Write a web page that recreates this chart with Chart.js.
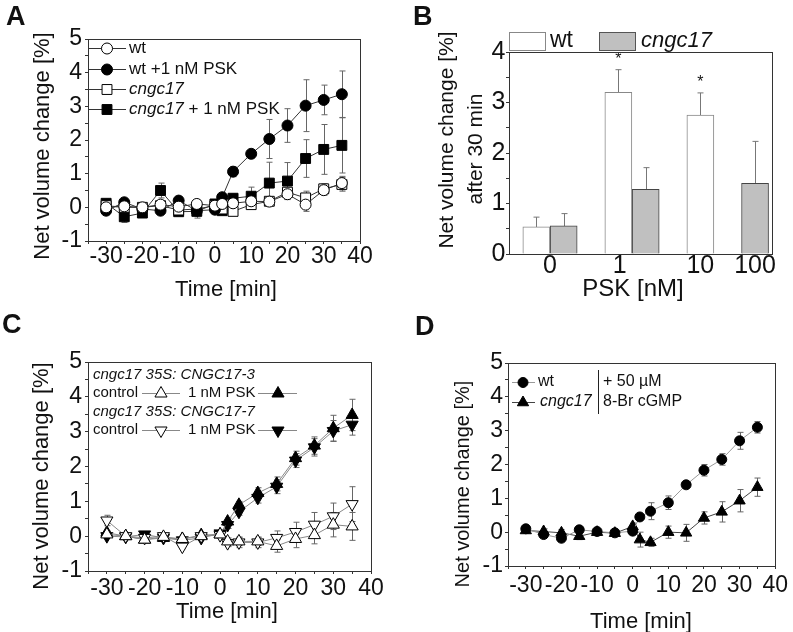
<!DOCTYPE html>
<html>
<head>
<meta charset="utf-8">
<script src="https://cdn.jsdelivr.net/npm/chart.js@4.4.1/dist/chart.umd.min.js"></script>
<style>
  html, body { margin: 0; padding: 0; background: #fff; }
  #wrap { position: relative; width: 793px; height: 632px; overflow: hidden; }
  #wrap canvas { position: absolute; left: 0; top: 0; }
</style>
</head>
<body>
<div id="wrap">
  <canvas id="chartA" width="793" height="632"></canvas>
  <canvas id="chartB" width="793" height="632"></canvas>
  <canvas id="chartC" width="793" height="632"></canvas>
  <canvas id="chartD" width="793" height="632"></canvas>
</div>
<script>
// ---- datos ----
const timePoints = [-30, -25, -20, -15, -10, -5, 0, 2, 5, 10, 15, 20, 25, 30, 35];
const timeTicks = [-30, -20, -10, 0, 10, 20, 30, 40];
const volTicks = [-1, 0, 1, 2, 3, 4, 5];

// A
const aWt         = [0.0, 0.03, 0.0, 0.08, 0.02, 0.1, 0.05, 0.1, 0.12, 0.18, 0.17, 0.39, 0.08, 0.51, 0.72];
const aWtErr      = [0.06, 0.08, 0.06, 0.1, 0.08, 0.12, 0.06, 0.1, 0.1, 0.1, 0.1, 0.15, 0.2, 0.15, 0.2];
const aWtPsk      = [-0.1, 0.15, -0.05, -0.1, 0.2, -0.1, -0.07, 0.3, 1.06, 1.59, 2.03, 2.43, 3.02, 3.19, 3.36];
const aWtPskErr   = [0.05, 0.06, 0.05, 0.08, 0.12, 0.1, 0.05, 0.05, 0.15, 0.05, 0.58, 0.5, 0.77, 0.44, 0.69];
const aCngc       = [0.05, 0.0, 0.0, 0.05, -0.08, -0.05, 0.05, -0.05, -0.12, 0.08, 0.18, 0.45, 0.28, 0.55, 0.68];
const aCngcErr    = [0.05, 0.05, 0.05, 0.05, 0.06, 0.08, 0.05, 0.05, 0.1, 0.08, 0.1, 0.12, 0.2, 0.15, 0.2];
const aCngcPsk    = [0.12, -0.28, -0.17, 0.5, -0.13, -0.12, 0.1, -0.1, 0.27, 0.33, 0.72, 0.78, 1.45, 1.72, 1.84];
const aCngcPskErr = [0.06, 0.17, 0.06, 0.22, 0.05, 0.2, 0.05, 0.05, 0.12, 0.27, 0.62, 0.55, 0.56, 0.74, 0.82];

// B
const doses    = ['0', '1', '10', '100'];
const bWt      = [0.54, 3.2, 2.75, null];
const bWtErr   = [0.19, 0.45, 0.44, null];
const bWtSig   = ['', '*', '*', ''];
const bCngc    = [0.56, 1.28, null, 1.4];
const bCngcErr = [0.24, 0.43, null, 0.83];

// C
const c3Ctrl    = [0.05, 0.0, -0.1, -0.02, -0.08, 0.0, 0.05, -0.15, -0.15, -0.15, -0.28, -0.08, 0.03, 0.33, 0.28];
const c3CtrlErr = [0.06, 0.05, 0.06, 0.05, 0.06, 0.05, 0.05, 0.1, 0.12, 0.12, 0.18, 0.25, 0.25, 0.35, 0.4];
const c3Psk     = [0.1, 0.0, -0.1, -0.05, -0.08, 0.03, 0.05, 0.42, 0.9, 1.24, 1.5, 2.24, 2.6, 3.1, 3.48];
const c3PskErr  = [0.05, 0.05, 0.05, 0.05, 0.05, 0.05, 0.05, 0.1, 0.1, 0.15, 0.2, 0.2, 0.25, 0.37, 0.45];
const c7Ctrl    = [0.45, 0.0, -0.05, 0.0, -0.3, 0.0, 0.03, -0.2, -0.18, -0.18, -0.05, 0.12, 0.33, 0.57, 0.92];
const c7CtrlErr = [0.15, 0.05, 0.05, 0.1, 0.06, 0.05, 0.05, 0.1, 0.15, 0.15, 0.2, 0.28, 0.35, 0.38, 0.5];
const c7Psk     = [0.0, -0.02, 0.05, -0.05, -0.12, -0.05, 0.08, 0.32, 0.7, 1.1, 1.42, 2.17, 2.55, 3.02, 3.2];
const c7PskErr  = [0.05, 0.05, 0.05, 0.05, 0.05, 0.05, 0.05, 0.1, 0.1, 0.15, 0.2, 0.2, 0.25, 0.3, 0.3];

// D
const dWt      = [0.1, -0.07, -0.18, 0.07, 0.02, -0.02, 0.03, 0.45, 0.62, 0.87, 1.4, 1.83, 2.15, 2.7, 3.1];
const dWtErr   = [0.05, 0.08, 0.08, 0.05, 0.05, 0.05, 0.05, 0.05, 0.25, 0.2, 0.07, 0.17, 0.17, 0.25, 0.17];
const dCngc    = [0.05, 0.02, -0.02, -0.12, 0.0, -0.03, 0.17, -0.22, -0.3, 0.0, -0.02, 0.42, 0.6, 0.93, 1.33];
const dCngcErr = [0.08, 0.08, 0.1, 0.1, 0.08, 0.05, 0.1, 0.22, 0.12, 0.18, 0.25, 0.18, 0.3, 0.33, 0.27];

// ---- estilo / layout ----
const FONT = '"Liberation Sans", Arial, Helvetica, sans-serif';
const W = 793, H = 632;
Chart.defaults.font.family = FONT;
Chart.defaults.color = '#111';

// posiciones de las barras (ranuras) en el panel B
const wtSlot = [1, 4, 7, 10];
const cngcSlot = [2, 5, 8, 9];
const doseTickSlot = [1.5, 4.05, 7, 9];

function padFor(a) {
  return { left: a.l - 40, top: a.t, right: W - a.r, bottom: H - a.b - 40 };
}

function drawMarker(ctx, m, x, y) {
  ctx.beginPath();
  if (m.style === 'circle') {
    ctx.arc(x, y, m.r, 0, Math.PI * 2);
  } else if (m.style === 'rect') {
    const s = m.r * Math.SQRT1_2;
    ctx.rect(x - s, y - s, 2 * s, 2 * s);
  } else {
    let rad = m.down ? Math.PI : 0;
    ctx.moveTo(x + Math.sin(rad) * m.r, y - Math.cos(rad) * m.r);
    rad += Math.PI * 2 / 3;
    ctx.lineTo(x + Math.sin(rad) * m.r, y - Math.cos(rad) * m.r);
    rad += Math.PI * 2 / 3;
    ctx.lineTo(x + Math.sin(rad) * m.r, y - Math.cos(rad) * m.r);
    ctx.closePath();
  }
  ctx.fillStyle = m.fill;
  ctx.fill();
  ctx.strokeStyle = m.stroke;
  ctx.lineWidth = 1;
  ctx.stroke();
}

// marco alrededor del area
const framePlugin = {
  id: 'frame',
  afterDraw(chart) {
    const a = chart.chartArea, ctx = chart.ctx;
    ctx.save();
    ctx.strokeStyle = '#333';
    ctx.lineWidth = 1;
    ctx.strokeRect(Math.round(a.left) + 0.5, Math.round(a.top) + 0.5,
      Math.round(a.right - a.left), Math.round(a.bottom - a.top));
    ctx.restore();
  }
};

// barras de error
const errorBarPlugin = {
  id: 'errorBars',
  beforeDatasetsDraw(chart) {
    const ctx = chart.ctx;
    chart.data.datasets.forEach((ds, i) => {
      if (!ds.errors) return;
      const meta = chart.getDatasetMeta(i);
      const ys = chart.scales[meta.yAxisID];
      ctx.save();
      ctx.strokeStyle = ds.errorColor || '#666';
      ctx.lineWidth = 1;
      meta.data.forEach((el, j) => {
        const pt = ds.data[j];
        const e = ds.errors[j];
        if (!pt || pt.y == null || e == null) return;
        const x = Math.round(el.x) + 0.5;
        const top = ys.getPixelForValue(pt.y + e);
        const bot = ys.getPixelForValue(pt.y - e);
        const cap = ds.capWidth || 3;
        ctx.beginPath();
        ctx.moveTo(x, top); ctx.lineTo(x, bot);
        ctx.moveTo(x - cap, top); ctx.lineTo(x + cap, top);
        ctx.moveTo(x - cap, bot); ctx.lineTo(x + cap, bot);
        ctx.stroke();
      });
      ctx.restore();
    });
  }
};

function textLayer(items) {
  return {
    id: 'textLayer',
    afterDraw(chart) {
      const ctx = chart.ctx;
      items.forEach(it => {
        ctx.save();
        ctx.translate(it.x, it.y);
        if (it.rot) ctx.rotate(it.rot * Math.PI / 180);
        ctx.fillStyle = '#111';
        ctx.textBaseline = it.base || 'middle';
        ctx.textAlign = 'left';
        const parts = Array.isArray(it.t) ? it.t : [[it.t, it.italic]];
        const fontOf = p => (p[1] ? 'italic ' : '') + (it.bold ? 'bold ' : '') + it.size + 'px ' + FONT;
        let total = 0;
        parts.forEach(p => { ctx.font = fontOf(p); total += ctx.measureText(p[0]).width; });
        let x = it.align === 'center' ? -total / 2 : 0;
        parts.forEach(p => {
          ctx.font = fontOf(p);
          ctx.fillText(p[0], x, 0);
          x += ctx.measureText(p[0]).width;
        });
        ctx.restore();
      });
    }
  };
}

function keyLayer(items) {
  return {
    id: 'keyLayer',
    afterDraw(chart) {
      const ctx = chart.ctx;
      items.forEach(k => {
        ctx.save();
        if (k.box) {
          ctx.fillStyle = k.box.fill;
          ctx.fillRect(k.box.x, k.box.y, k.box.w, k.box.h);
          ctx.strokeStyle = k.box.stroke;
          ctx.lineWidth = 1;
          ctx.strokeRect(k.box.x + 0.5, k.box.y + 0.5, k.box.w, k.box.h);
        } else {
          ctx.strokeStyle = k.color;
          ctx.lineWidth = 1;
          ctx.beginPath();
          ctx.moveTo(k.x1, k.y + 0.5);
          ctx.lineTo(k.x2, k.y + 0.5);
          ctx.stroke();
          if (k.marker) drawMarker(ctx, k.marker, k.mx, k.y + 0.5);
        }
        ctx.restore();
      });
    }
  };
}

function timeScales(tickSize, xPad, yPad) {
  const tickFont = { size: tickSize, lineHeight: 1 };
  return {
    x: {
      type: 'linear', min: -35, max: 40, offset: false,
      afterBuildTicks: s => { s.ticks = []; for (let v = -35; v <= 40; v += 5) s.ticks.push({ value: v }); },
      afterFit: s => { s.height = 40; },
      ticks: { autoSkip: false, maxRotation: 0, padding: xPad, font: tickFont, color: '#111',
        callback: v => timeTicks.includes(v) ? String(v) : '' },
      grid: { drawOnChartArea: false, tickLength: 3, tickColor: '#333' },
      border: { color: '#333' }
    },
    y: {
      min: -1, max: 5,
      afterBuildTicks: s => { s.ticks = []; for (let v = -1; v <= 5; v += 0.5) s.ticks.push({ value: v }); },
      afterFit: s => { s.width = 40; },
      ticks: { autoSkip: false, padding: yPad, font: tickFont, color: '#111',
        callback: v => volTicks.includes(v) ? String(v) : '' },
      grid: { drawOnChartArea: false, tickLength: 3, tickColor: '#333' },
      border: { color: '#333' }
    }
  };
}

function series(ys, errs, st) {
  return Object.assign({
    data: timePoints.map((t, i) => ({ x: t, y: ys[i] })),
    errors: errs,
    borderWidth: 1,
    pointBorderWidth: 1,
    pointBorderColor: '#000',
    tension: 0,
    fill: false
  }, st);
}

function timeChart(id, area, datasets, tickSize, xPad, yPad, extraPlugins) {
  return new Chart(document.getElementById(id), {
    type: 'line',
    data: { datasets },
    options: {
      responsive: false, animation: false, devicePixelRatio: 1,
      layout: { padding: padFor(area) },
      plugins: { legend: { display: false }, tooltip: { enabled: false } },
      scales: timeScales(tickSize, xPad, yPad)
    },
    plugins: [errorBarPlugin, framePlugin].concat(extraPlugins)
  });
}

const mk = (style, r, fill, extra) => Object.assign({ style, r, fill, stroke: '#000' }, extra || {});

// ---- Panel A ----
const areaA = { l: 88, t: 39, r: 360, b: 241 };
timeChart('chartA', areaA, [
  series(aWt, aWtErr, { borderColor: '#333', pointStyle: 'circle', pointRadius: 5.5, pointBackgroundColor: '#fff' }),
  series(aWtPsk, aWtPskErr, { borderColor: '#333', pointStyle: 'circle', pointRadius: 5.5, pointBackgroundColor: '#000' }),
  series(aCngc, aCngcErr, { borderColor: '#333', pointStyle: 'rect', pointRadius: 7, pointBackgroundColor: '#fff' }),
  series(aCngcPsk, aCngcPskErr, { borderColor: '#333', pointStyle: 'rect', pointRadius: 7, pointBackgroundColor: '#000' })
], 23, 1.5, 3, [
  keyLayer([
    { x1: 89, x2: 126, y: 48, mx: 107, color: '#333', marker: mk('circle', 5.5, '#fff') },
    { x1: 89, x2: 126, y: 69, mx: 107, color: '#333', marker: mk('circle', 5.5, '#000') },
    { x1: 89, x2: 126, y: 89, mx: 107, color: '#333', marker: mk('rect', 7, '#fff') },
    { x1: 89, x2: 126, y: 109, mx: 107, color: '#333', marker: mk('rect', 7, '#000') }
  ]),
  textLayer([
    { t: 'A', x: 6, y: 25, size: 27, bold: true, base: 'alphabetic' },
    { t: 'Net volume change [%]', x: 43, y: 146, size: 22, rot: -90, align: 'center' },
    { t: 'Time [min]', x: 226, y: 290, size: 22, align: 'center' },
    { t: 'wt', x: 129, y: 48, size: 17 },
    { t: 'wt +1 nM PSK', x: 129, y: 69, size: 17 },
    { t: [['cngc17', true]], x: 129, y: 89, size: 17 },
    { t: [['cngc17', true], [' + 1 nM PSK', false]], x: 129, y: 109, size: 17 }
  ])
]);

// ---- Panel B ----
const areaB = { l: 509, t: 52, r: 772, b: 254 };
const sigPlugin = {
  id: 'sig',
  afterDatasetsDraw(chart) {
    const ctx = chart.ctx, ys = chart.scales.y;
    const meta = chart.getDatasetMeta(0);
    ctx.save();
    ctx.fillStyle = '#111';
    ctx.font = '16px ' + FONT;
    ctx.textAlign = 'center';
    ctx.textBaseline = 'middle';
    bWtSig.forEach((s, i) => {
      if (!s || bWt[i] == null) return;
      const el = meta.data[i];
      ctx.fillText(s, el.x, ys.getPixelForValue(bWt[i] + bWtErr[i]) - 10);
    });
    ctx.restore();
  }
};
new Chart(document.getElementById('chartB'), {
  type: 'bar',
  data: {
    datasets: [
      {
        data: doses.map((d, i) => ({ x: wtSlot[i], y: bWt[i] })),
        errors: bWtErr, errorColor: '#777',
        backgroundColor: '#fff', borderColor: '#888', borderWidth: 1,
        barThickness: 27, grouped: false
      },
      {
        data: doses.map((d, i) => ({ x: cngcSlot[i], y: bCngc[i] })),
        errors: bCngcErr, errorColor: '#777',
        backgroundColor: '#c0c0c0', borderColor: '#444', borderWidth: 1,
        barThickness: 27, grouped: false
      }
    ]
  },
  options: {
    responsive: false, animation: false, devicePixelRatio: 1,
    layout: { padding: padFor(areaB) },
    plugins: { legend: { display: false }, tooltip: { enabled: false } },
    scales: {
      x: {
        type: 'linear', min: 0, max: 9.62, offset: false,
        afterBuildTicks: s => { s.ticks = doseTickSlot.map(v => ({ value: v })); },
        afterFit: s => { s.height = 40; },
        ticks: { autoSkip: false, maxRotation: 0, padding: 0, font: { size: 25, lineHeight: 1 }, color: '#111',
          callback: (v, i) => doses[i] },
        grid: { drawOnChartArea: false, drawTicks: false },
        border: { color: '#333' }
      },
      y: {
        min: 0, max: 4,
        afterBuildTicks: s => { s.ticks = []; for (let v = 0; v <= 4; v += 0.5) s.ticks.push({ value: v }); },
        afterFit: s => { s.width = 40; },
        ticks: { autoSkip: false, padding: 0.5, font: { size: 25, lineHeight: 1 }, color: '#111',
          callback: v => Number.isInteger(v) ? String(v) : '' },
        grid: { drawOnChartArea: false, tickLength: 3, tickColor: '#333' },
        border: { color: '#333' }
      }
    }
  },
  plugins: [framePlugin, errorBarPlugin, sigPlugin,
    keyLayer([
      { box: { x: 509, y: 32, w: 36, h: 18, fill: '#fff', stroke: '#888' } },
      { box: { x: 599, y: 32, w: 36, h: 18, fill: '#c0c0c0', stroke: '#555' } }
    ]),
    textLayer([
      { t: 'B', x: 413, y: 25, size: 27, bold: true, base: 'alphabetic' },
      { t: 'Net volume change [%]', x: 447, y: 140, size: 21, rot: -90, align: 'center' },
      { t: 'after 30 min', x: 476, y: 149, size: 21, rot: -90, align: 'center' },
      { t: 'PSK [nM]', x: 633, y: 289, size: 24, align: 'center' },
      { t: 'wt', x: 550, y: 41, size: 23 },
      { t: [['cngc17', true]], x: 641, y: 41, size: 22 }
    ])
  ]
});

// ---- Panel C ----
const areaC = { l: 88, t: 362, r: 371, b: 571 };
timeChart('chartC', areaC, [
  series(c3Ctrl, c3CtrlErr, { borderColor: '#888', pointStyle: 'triangle', pointRadius: 7, pointBackgroundColor: '#fff' }),
  series(c7Ctrl, c7CtrlErr, { borderColor: '#888', pointStyle: 'triangle', pointRotation: 180, pointRadius: 7, pointBackgroundColor: '#fff' }),
  series(c3Psk, c3PskErr, { borderColor: '#888', pointStyle: 'triangle', pointRadius: 7, pointBackgroundColor: '#000' }),
  series(c7Psk, c7PskErr, { borderColor: '#888', pointStyle: 'triangle', pointRotation: 180, pointRadius: 7, pointBackgroundColor: '#000' })
], 23, 3, 3, [
  keyLayer([
    { x1: 142, x2: 180, y: 393, mx: 161, color: '#888', marker: mk('triangle', 7, '#fff') },
    { x1: 258, x2: 297, y: 393, mx: 278, color: '#888', marker: mk('triangle', 7, '#000') },
    { x1: 142, x2: 180, y: 430, mx: 161, color: '#888', marker: mk('triangle', 7, '#fff', { down: true }) },
    { x1: 258, x2: 297, y: 430, mx: 278, color: '#888', marker: mk('triangle', 7, '#000', { down: true }) }
  ]),
  textLayer([
    { t: 'C', x: 2, y: 333, size: 27, bold: true, base: 'alphabetic' },
    { t: 'Net volume change [%]', x: 42, y: 476, size: 22, rot: -90, align: 'center' },
    { t: 'Time [min]', x: 227, y: 612, size: 22, align: 'center' },
    { t: [['cngc17 35S: CNGC17-3', true]], x: 93, y: 375, size: 15 },
    { t: 'control', x: 93, y: 393, size: 15 },
    { t: '1 nM PSK', x: 188, y: 393, size: 15 },
    { t: [['cngc17 35S: CNGC17-7', true]], x: 93, y: 412, size: 15 },
    { t: 'control', x: 93, y: 430, size: 15 },
    { t: '1 nM PSK', x: 188, y: 430, size: 15 }
  ])
]);

// ---- Panel D ----
const areaD = { l: 508, t: 363, r: 777, b: 566 };
timeChart('chartD', areaD, [
  series(dWt, dWtErr, { borderColor: '#999', pointStyle: 'circle', pointRadius: 5, pointBackgroundColor: '#000' }),
  series(dCngc, dCngcErr, { borderColor: '#444', pointStyle: 'triangle', pointRadius: 6.5, pointBackgroundColor: '#000' })
], 23, 5, 2, [
  keyLayer([
    { x1: 512, x2: 535, y: 382, mx: 523, color: '#999', marker: mk('circle', 5, '#000') },
    { x1: 512, x2: 535, y: 402, mx: 523, color: '#444', marker: mk('triangle', 6.5, '#000') },
    { x1: 598, x2: 598, y: 370, mx: 0 }
  ]),
  {
    id: 'sep',
    afterDraw(chart) {
      const ctx = chart.ctx;
      ctx.save();
      ctx.strokeStyle = '#222';
      ctx.lineWidth = 1;
      ctx.beginPath();
      ctx.moveTo(598.5, 370); ctx.lineTo(598.5, 414);
      ctx.stroke();
      ctx.restore();
    }
  },
  textLayer([
    { t: 'D', x: 415, y: 335, size: 27, bold: true, base: 'alphabetic' },
    { t: 'Net volume change [%]', x: 463, y: 484, size: 20, rot: -90, align: 'center' },
    { t: 'Time [min]', x: 641, y: 622, size: 22, align: 'center' },
    { t: 'wt', x: 538, y: 382, size: 16 },
    { t: [['cngc17', true]], x: 540, y: 402, size: 16 },
    { t: '+ 50 µM', x: 603, y: 382, size: 16 },
    { t: '8-Br cGMP', x: 603, y: 402, size: 16 }
  ])
]);
</script>
</body>
</html>
